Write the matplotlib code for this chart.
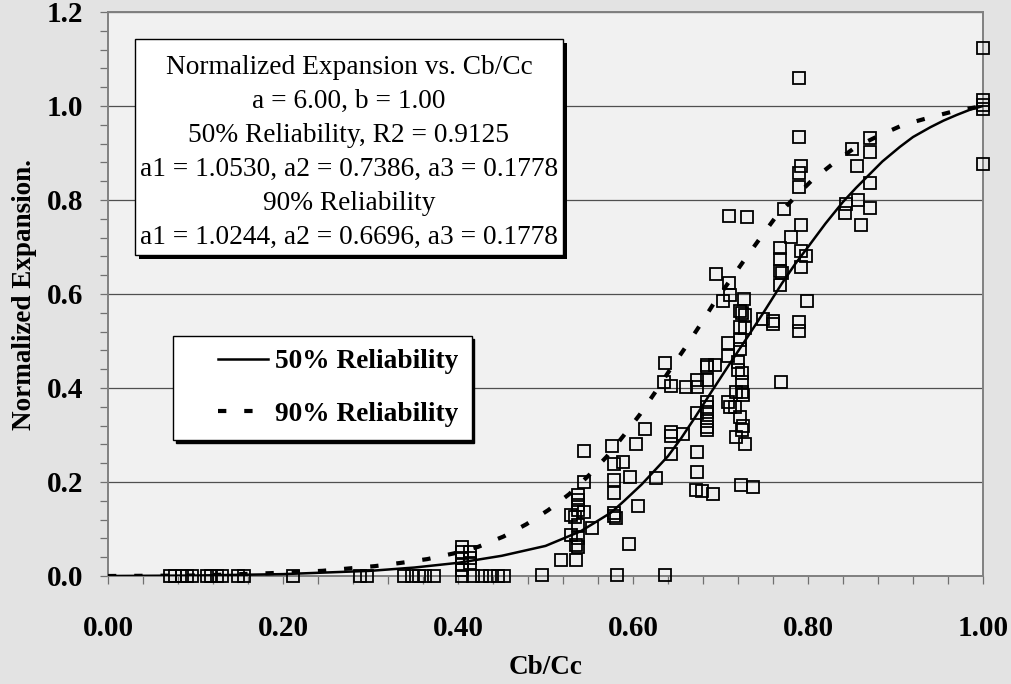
import matplotlib.pyplot as plt
from matplotlib.patches import Rectangle
from matplotlib.lines import Line2D
from matplotlib.legend_handler import HandlerLine2D
from matplotlib.ticker import MultipleLocator, FormatStrFormatter

# measured data: Cb/Cc vs normalized expansion
cb_cc = [0.071, 0.077, 0.084, 0.090, 0.096, 0.113, 0.118, 0.124, 0.130, 0.149, 0.155,
         0.211, 0.288, 0.296, 0.338, 0.347, 0.355, 0.362, 0.372,
         0.404, 0.417, 0.427, 0.437, 0.446, 0.452, 0.496, 0.582, 0.637,
         0.404, 0.404, 0.404, 0.404, 0.404, 0.414, 0.414, 0.414,
         0.518, 0.535, 0.529, 0.537, 0.537, 0.535, 0.537, 0.553, 0.529, 0.534,
         0.544, 0.537, 0.537, 0.537, 0.537, 0.544, 0.544,
         0.576, 0.578, 0.588, 0.578, 0.578, 0.578, 0.578, 0.581, 0.595, 0.597,
         0.603, 0.606, 0.614, 0.626,
         0.637, 0.635, 0.643, 0.643, 0.643, 0.643, 0.657, 0.660, 0.673, 0.673,
         0.673, 0.673, 0.673, 0.672, 0.679, 0.691, 0.685, 0.685, 0.694, 0.685,
         0.685, 0.685, 0.685, 0.685, 0.685, 0.685, 0.695, 0.703, 0.710, 0.711,
         0.709, 0.709, 0.709, 0.711, 0.717, 0.718, 0.718, 0.720, 0.720, 0.722,
         0.724, 0.728, 0.722, 0.728, 0.722, 0.722, 0.722, 0.724, 0.724, 0.724,
         0.726, 0.726, 0.724, 0.728, 0.723, 0.737, 0.727, 0.710, 0.730,
         0.748, 0.760, 0.760, 0.769, 0.768, 0.768, 0.768, 0.770, 0.768, 0.773,
         0.781, 0.790, 0.790, 0.792, 0.790, 0.790, 0.792, 0.792, 0.798, 0.792,
         0.790, 0.790, 0.799,
         0.871, 0.850, 0.871, 0.856, 0.871, 0.857, 0.843, 0.842, 0.871, 0.860,
         1.000, 1.000, 1.000, 1.000, 1.000]
expansion = [0.0, 0.0, 0.0, 0.0, 0.0, 0.0, 0.0, 0.0, 0.0, 0.0, 0.0,
             0.0, 0.0, 0.0, 0.0, 0.0, 0.0, 0.0, 0.0,
             0.0, 0.0, 0.0, 0.0, 0.0, 0.0, 0.003, 0.002, 0.002,
             0.062, 0.052, 0.038, 0.023, 0.013, 0.052, 0.038, 0.027,
             0.035, 0.033, 0.087, 0.080, 0.062, 0.067, 0.109, 0.103, 0.130, 0.126,
             0.137, 0.140, 0.151, 0.162, 0.172, 0.201, 0.265,
             0.277, 0.238, 0.242, 0.204, 0.176, 0.135, 0.127, 0.123, 0.068, 0.210,
             0.280, 0.150, 0.313, 0.208,
             0.453, 0.413, 0.405, 0.307, 0.298, 0.260, 0.302, 0.402, 0.417, 0.403,
             0.346, 0.263, 0.222, 0.182, 0.180, 0.174, 0.449, 0.445, 0.449, 0.417,
             0.371, 0.360, 0.350, 0.329, 0.318, 0.311, 0.642, 0.586, 0.623, 0.597,
             0.496, 0.469, 0.371, 0.360, 0.360, 0.392, 0.296, 0.456, 0.438, 0.563,
             0.559, 0.555, 0.530, 0.527, 0.502, 0.482, 0.339, 0.431, 0.413, 0.391,
             0.385, 0.320, 0.311, 0.281, 0.194, 0.189, 0.589, 0.765, 0.763,
             0.547, 0.543, 0.536, 0.412, 0.697, 0.674, 0.648, 0.645, 0.619, 0.780,
             0.721, 1.059, 0.934, 0.872, 0.857, 0.828, 0.747, 0.691, 0.681, 0.657,
             0.541, 0.522, 0.586,
             0.931, 0.909, 0.902, 0.872, 0.836, 0.801, 0.791, 0.772, 0.784, 0.746,
             1.123, 1.012, 1.003, 0.993, 0.877]

# fitted curves
x50 = [0.00, 0.10, 0.20, 0.30, 0.35, 0.40, 0.45, 0.50, 0.54, 0.555, 0.575, 0.59,
       0.61, 0.625, 0.64, 0.655, 0.67, 0.69, 0.71, 0.73, 0.75, 0.77, 0.785, 0.80,
       0.82, 0.84, 0.855, 0.87, 0.885, 0.905, 0.92, 0.94, 0.955, 0.97, 0.985, 1.00]
y50 = [0.000, 0.001, 0.004, 0.011, 0.018, 0.028, 0.043, 0.064, 0.095, 0.112, 0.135, 0.160,
       0.195, 0.225, 0.255, 0.293, 0.335, 0.393, 0.450, 0.506, 0.563, 0.622, 0.663, 0.700,
       0.750, 0.796, 0.826, 0.854, 0.882, 0.913, 0.934, 0.955, 0.969, 0.981, 0.992, 1.000]

x90 = [0.00, 0.10, 0.185, 0.245, 0.305, 0.335, 0.365, 0.395, 0.423, 0.452, 0.478,
       0.503, 0.527, 0.550, 0.570, 0.589, 0.608, 0.625, 0.642, 0.659, 0.676, 0.692,
       0.709, 0.726, 0.745, 0.762, 0.783, 0.804, 0.829, 0.854, 0.880, 0.909, 0.938,
       0.967, 1.00]
y90 = [0.000, 0.001, 0.006, 0.011, 0.021, 0.028, 0.036, 0.048, 0.062, 0.084, 0.110,
       0.140, 0.174, 0.215, 0.254, 0.298, 0.344, 0.390, 0.438, 0.484, 0.532, 0.579,
       0.624, 0.669, 0.718, 0.761, 0.802, 0.841, 0.878, 0.912, 0.936, 0.960, 0.975,
       0.989, 1.000]

info_lines = ['Normalized Expansion vs. Cb/Cc',
              'a = 6.00, b = 1.00',
              '50% Reliability, R2 = 0.9125',
              'a1 = 1.0530, a2 = 0.7386, a3 = 0.1778',
              '90% Reliability',
              'a1 = 1.0244, a2 = 0.6696, a3 = 0.1778']

plt.rcParams['font.family'] = ['Liberation Serif', 'DejaVu Serif']
plt.rcParams['font.weight'] = 'bold'

W, H = 1012, 684
fig = plt.figure(figsize=(W / 100, H / 100), dpi=100, facecolor='#e3e3e3')
ax = fig.add_axes([108 / W, 1 - 576 / H, 875 / W, 564 / H])
ax.set_facecolor('#f1f1f1')

ax.plot(cb_cc, expansion, ls='none', marker='s', ms=8.2, mfc='none',
        mec='black', mew=1.3, zorder=3, clip_on=False)
ax.plot(x50, y50, color='black', lw=1.8, label='50% Reliability', zorder=4)
ax.plot(x90, y90, color='black', lw=3.0, ls=(0, (2, 4.3)),
        label='90% Reliability', zorder=4)

ax.set_xlim(0, 1.0)
ax.set_ylim(0, 1.2)
ax.xaxis.set_major_locator(MultipleLocator(0.2))
ax.xaxis.set_minor_locator(MultipleLocator(0.04))
ax.yaxis.set_major_locator(MultipleLocator(0.2))
ax.yaxis.set_minor_locator(MultipleLocator(0.04))
ax.xaxis.set_major_formatter(FormatStrFormatter('%.2f'))
ax.yaxis.set_major_formatter(FormatStrFormatter('%.1f'))
ax.tick_params(which='both', direction='out', length=5.8, width=0.9,
               color='#707070', top=False, right=False)
ax.tick_params(axis='x', labelsize=21, pad=22)
ax.tick_params(axis='y', labelsize=21, pad=12)
ax.yaxis.grid(True, color='#505050', lw=0.9)
ax.set_axisbelow(True)
for s in ax.spines.values():
    s.set_color('#808080')
    s.set_linewidth(1.4)

ax.set_xlabel('Cb/Cc', fontsize=19.5, fontweight='bold', va='center')
ax.xaxis.set_label_coords(0.5, (576 - 667) / 564)
ax.set_ylabel('Normalized Expansion.', fontsize=19.5, fontweight='bold', va='center')
ax.yaxis.set_label_coords((25 - 108) / 875, 0.5)

ax.legend(loc='upper left', bbox_to_anchor=((173 - 108) / 875, (576 - 336) / 564),
          borderaxespad=0, prop={'size': 19.7, 'weight': 'bold'},
          handlelength=3.0, handletextpad=0.26, labelspacing=1.0, borderpad=0.48,
          fancybox=False, edgecolor='black', facecolor='white', framealpha=1,
          shadow={'color': 'black', 'alpha': 1},
          handler_map={Line2D: HandlerLine2D(xpad=1.17)})

# parameter box with drop shadow
bx0, by0, bx1, by1 = 135, 39, 563, 255
fig.add_artist(Rectangle(((bx0 + 4) / W, 1 - (by1 + 4) / H), (bx1 - bx0) / W,
                         (by1 - by0) / H, transform=fig.transFigure,
                         fc='black', ec='none', zorder=5))
fig.add_artist(Rectangle((bx0 / W, 1 - by1 / H), (bx1 - bx0) / W, (by1 - by0) / H,
                         transform=fig.transFigure, fc='white', ec='black',
                         lw=1.0, zorder=6))
baselines = [74, 108, 142, 176, 210, 244]
for txt, yb in zip(info_lines, baselines):
    fig.text(349 / W, 1 - yb / H, txt, ha='center', va='baseline',
             fontsize=19.7, fontweight='normal', zorder=7)

fig.savefig('out.png', dpi=100, facecolor=fig.get_facecolor())
